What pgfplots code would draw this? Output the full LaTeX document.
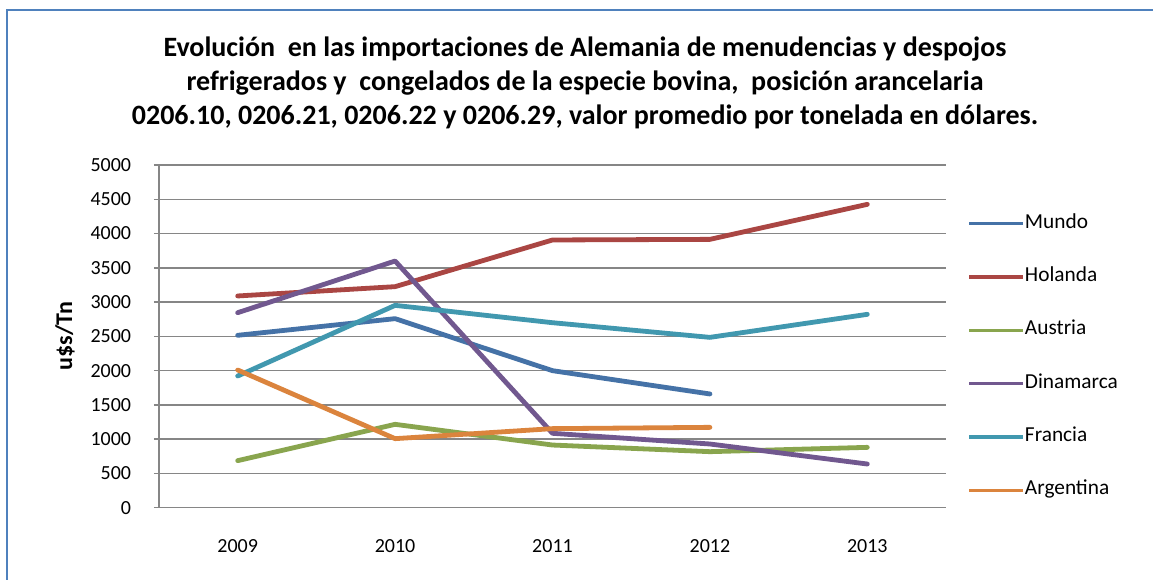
\documentclass[border=0pt]{standalone}
\usepackage{fontspec}
\setmainfont{Carlito}
\usepackage{pgfplots}
\pgfplotsset{compat=1.18}
\definecolor{cMundo}{HTML}{4572A7}
\definecolor{cHolanda}{HTML}{AA4643}
\definecolor{cAustria}{HTML}{89A54E}
\definecolor{cDinamarca}{HTML}{71588F}
\definecolor{cFrancia}{HTML}{4198AF}
\definecolor{cArgentina}{HTML}{DB843D}
\definecolor{frameblue}{HTML}{4F81BD}
\definecolor{gridgray}{HTML}{868686}
\begin{document}
\begin{tikzpicture}
\useasboundingbox (0,0) rectangle (864.75pt,434.25pt);
\fill[white] (0,0) rectangle (864.75pt,434.25pt);
\draw[frameblue, line width=1.6pt] (5.25pt,-10pt) rectangle (880pt,426.75pt);
\node[align=center, font=\fontsize{21}{25.5}\selectfont\bfseries] at (438.75pt,372pt)
  {Evolución\ \ en las importaciones de Alemania de menudencias y despojos\\
   refrigerados y\ \ congelados de la especie bovina,\ \ posición arancelaria\\
   0206.10, 0206.21, 0206.22 y 0206.29, valor promedio por tonelada en dólares.};
\begin{axis}[
  at={(119.25pt,53.5pt)}, anchor=south west,
  scale only axis, width=590.25pt, height=257pt,
  xmin=-0.5, xmax=4.5, ymin=0, ymax=5000,
  xtick={0,1,2,3,4}, xticklabels={2009,2010,2011,2012,2013},
  ytick={0,500,...,5000},
  axis x line*=bottom, axis y line*=left,
  axis line style={gridgray, line width=1.1pt},
  ymajorgrids, grid style={gridgray, line width=1.1pt},
  major x tick style={draw=none},
  major y tick style={gridgray, line width=1.1pt},
  tick align=outside, major tick length=3.75pt,
  /pgf/number format/assume math mode=true,
  /pgf/number format/1000 sep={},
  tick label style={font=\fontsize{15}{18}\selectfont, text=black},
  yticklabel style={anchor=east, inner sep=0pt, xshift=-17pt},
  xticklabel style={anchor=center, inner sep=0pt, yshift=-25pt},
  ylabel={u\$s/Tn},
  ylabel style={at={(axis description cs:-0.1194,0.5)}, anchor=center, rotate=0, font=\fontsize{18}{21}\selectfont\bfseries},
  legend cell align=left,
  legend style={draw=none, fill=none, at={(axis description cs:1.027,0.859)}, anchor=north west,
    inner sep=0pt, row sep=25pt, font=\fontsize{16}{19}\selectfont,
    nodes={inner sep=0pt, text height=11pt, text depth=4pt}},
  legend image code/.code={\draw[#1, line width=2.6pt, line cap=butt] (0pt,0pt) -- (40.5pt,0pt);},
  every axis plot/.append style={line width=3.6pt, line cap=round, line join=round},
]
\addplot[cMundo] coordinates {(0,2515) (1,2758) (2,1999) (3,1659)};
\addlegendentry{Mundo}
\addplot[cHolanda] coordinates {(0,3089) (1,3225) (2,3906) (3,3915) (4,4426)};
\addlegendentry{Holanda}
\addplot[cAustria] coordinates {(0,686) (1,1216) (2,914) (3,817) (4,880)};
\addlegendentry{Austria}
\addplot[cDinamarca] coordinates {(0,2845) (1,3599) (2,1085) (3,929) (4,637)};
\addlegendentry{Dinamarca}
\addplot[cFrancia] coordinates {(0,1921) (1,2952) (2,2699) (3,2485) (4,2821)};
\addlegendentry{Francia}
\addplot[cArgentina] coordinates {(0,2009) (1,1007) (2,1153) (3,1172)};
\addlegendentry{Argentina}
\end{axis}
\end{tikzpicture}
\end{document}
